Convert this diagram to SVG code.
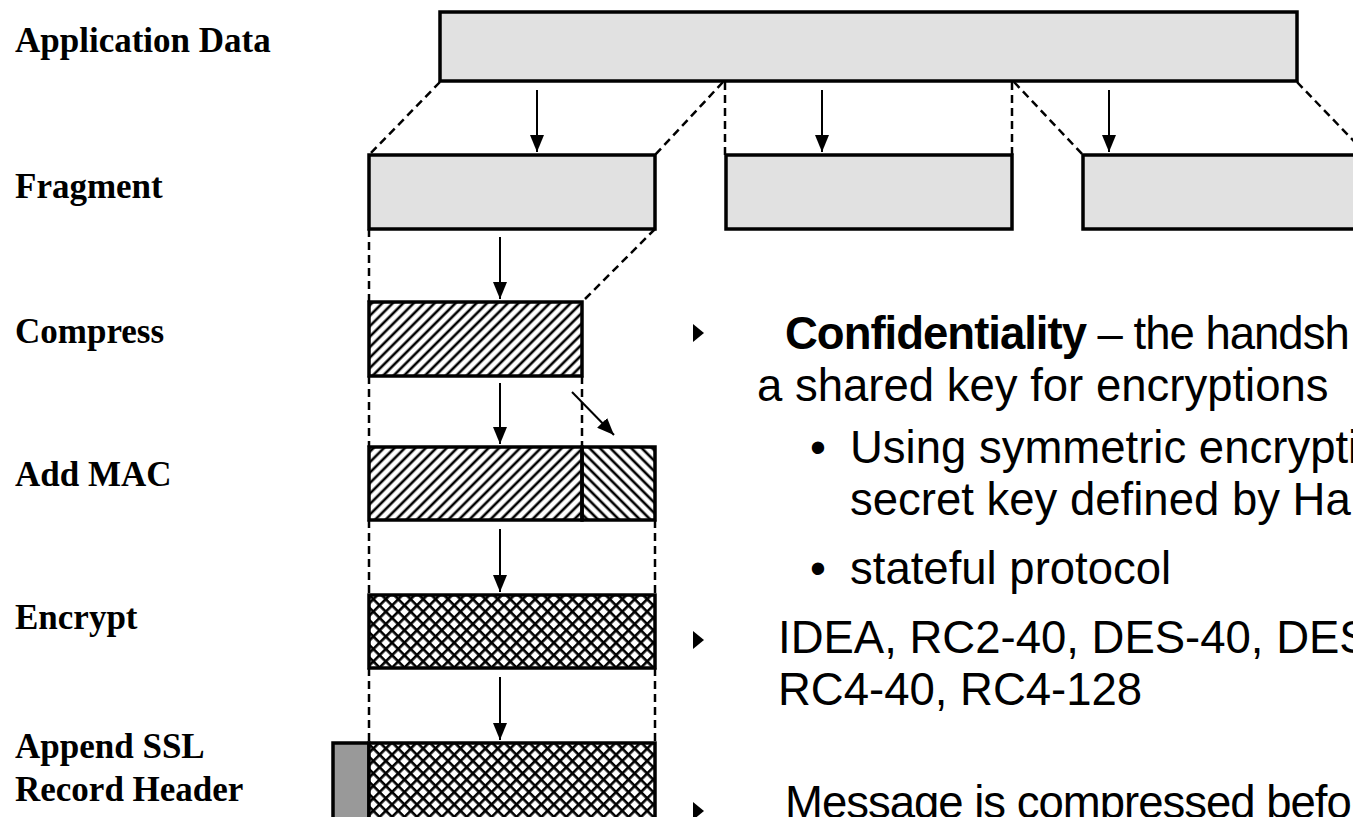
<svg xmlns="http://www.w3.org/2000/svg" width="1353" height="817" viewBox="0 0 1353 817">
  <defs>
    <!-- single diagonal hatch, rising to the right -->
    <pattern id="hatchFwd" patternUnits="userSpaceOnUse" width="7.4" height="7.4" patternTransform="rotate(-45)">
      <line x1="-2" y1="3.7" x2="10" y2="3.7" stroke="#000" stroke-width="2.6"/>
    </pattern>
    <!-- single diagonal hatch, falling to the right -->
    <pattern id="hatchBack" patternUnits="userSpaceOnUse" width="7.4" height="7.4" patternTransform="rotate(45)">
      <line x1="-2" y1="3.7" x2="10" y2="3.7" stroke="#000" stroke-width="2.6"/>
    </pattern>
    <!-- diamond cross hatch -->
    <pattern id="cross" patternUnits="userSpaceOnUse" width="8.8" height="8.8" patternTransform="rotate(45)">
      <rect width="8.8" height="8.8" fill="#fff"/>
      <line x1="-1" y1="1.3" x2="10" y2="1.3" stroke="#000" stroke-width="2.6"/>
      <line x1="1.3" y1="-1" x2="1.3" y2="10" stroke="#000" stroke-width="2.6"/>
    </pattern>
    <!-- filled arrowhead, drawn along the line direction -->
    <marker id="arrow" viewBox="0 0 17 14" refX="17" refY="7" markerWidth="17" markerHeight="14" markerUnits="userSpaceOnUse" orient="auto">
      <path d="M0,0 L17,7 L0,14 Z" fill="#000"/>
    </marker>
  </defs>
  <style>
    .label { font-family: "Liberation Serif", "Times New Roman", serif; font-weight: bold; font-size: 35px; fill: #000; }
    .body { font-family: "Liberation Sans", Arial, sans-serif; font-size: 45.5px; fill: #000; }
    .box { stroke: #000; stroke-width: 3.5; }
    .frag { fill: #e1e1e1; }
    .dash { stroke: #000; stroke-width: 2.5; stroke-dasharray: 8 5; fill: none; }
    .flow { stroke: #000; stroke-width: 2; fill: none; }
  </style>
  <rect width="1353" height="817" fill="#fff"/>

  <!-- stage labels -->
  <g id="labels">
    <text class="label" x="15" y="52">Application Data</text>
    <text class="label" x="15" y="198">Fragment</text>
    <text class="label" x="15" y="343">Compress</text>
    <text class="label" x="15" y="486">Add MAC</text>
    <text class="label" x="15" y="629">Encrypt</text>
    <text class="label" x="15" y="758">Append SSL</text>
    <text class="label" x="15" y="801">Record Header</text>
  </g>

  <!-- connectors: dashed guides and flow arrows -->
  <g id="connectors">
    <line class="dash" x1="440" y1="82" x2="369" y2="155"/>
    <line class="dash" x1="723" y1="82" x2="655" y2="155"/>
    <line class="dash" x1="725" y1="82" x2="725" y2="155"/>
    <line class="dash" x1="1012" y1="82" x2="1012" y2="155"/>
    <line class="dash" x1="1014" y1="82" x2="1083" y2="155"/>
    <line class="dash" x1="1297" y1="82" x2="1372" y2="160"/>

    <line class="dash" x1="369" y1="229" x2="369" y2="302"/>
    <line class="dash" x1="655" y1="229" x2="582" y2="302"/>
    <line class="dash" x1="369" y1="376" x2="369" y2="447"/>
    <line class="dash" x1="582" y1="376" x2="582" y2="447"/>
    <line class="dash" x1="369" y1="520" x2="369" y2="595"/>
    <line class="dash" x1="655" y1="520" x2="655" y2="595"/>
    <line class="dash" x1="369" y1="668" x2="369" y2="743"/>
    <line class="dash" x1="655" y1="668" x2="655" y2="743"/>

    <line class="flow" x1="537" y1="90" x2="537" y2="152" marker-end="url(#arrow)"/>
    <line class="flow" x1="822" y1="90" x2="822" y2="152" marker-end="url(#arrow)"/>
    <line class="flow" x1="1109" y1="90" x2="1109" y2="152" marker-end="url(#arrow)"/>
    <line class="flow" x1="500" y1="237" x2="500" y2="299" marker-end="url(#arrow)"/>
    <line class="flow" x1="500" y1="383" x2="500" y2="444" marker-end="url(#arrow)"/>
    <line class="flow" x1="572" y1="392" x2="614" y2="435" marker-end="url(#arrow)"/>
    <line class="flow" x1="500" y1="529" x2="500" y2="592" marker-end="url(#arrow)"/>
    <line class="flow" x1="500" y1="677" x2="500" y2="740" marker-end="url(#arrow)"/>
  </g>

  <g id="app-data">
    <rect class="box frag" x="440" y="12" width="857" height="69"/>
  </g>
  <g id="fragment-1">
    <rect class="box frag" x="369" y="155" width="286" height="74"/>
  </g>
  <g id="fragment-2">
    <rect class="box frag" x="726" y="155" width="286" height="74"/>
  </g>
  <g id="fragment-3">
    <rect class="box frag" x="1083" y="155" width="290" height="74"/>
  </g>
  <g id="compressed">
    <rect class="box" x="369" y="302" width="213" height="74" fill="url(#hatchFwd)"/>
  </g>
  <g id="with-mac">
    <rect class="box" x="369" y="447" width="213" height="73" fill="url(#hatchFwd)"/>
    <rect class="box" x="582" y="447" width="73" height="73" fill="url(#hatchBack)"/>
  </g>
  <g id="encrypted">
    <rect class="box" x="369" y="595" width="286" height="73" fill="url(#cross)"/>
  </g>
  <g id="record">
    <rect class="box" x="333" y="743" width="36" height="90" fill="#999"/>
    <rect class="box" x="369" y="743" width="286" height="90" fill="url(#cross)"/>
  </g>

  <!-- bulleted notes -->
  <g id="notes">
    <path d="M693,324 L704,333 L693,342 Z" fill="#000"/>
    <text class="body" x="785" y="349" letter-spacing="-1"><tspan font-weight="bold">Confidentiality</tspan> – the handsh</text>
    <text class="body" x="757" y="401">a shared key for encryptions</text>
    <text class="body" x="810" y="463">•</text>
    <text class="body" x="850" y="463">Using symmetric encrypti</text>
    <text class="body" x="850" y="515">secret key defined by Ha</text>
    <text class="body" x="810" y="584">•</text>
    <text class="body" x="850" y="584">stateful protocol</text>
    <path d="M693,631 L704,640 L693,649 Z" fill="#000"/>
    <text class="body" x="778" y="653">IDEA, RC2-40, DES-40, DES</text>
    <text class="body" x="778" y="705">RC4-40, RC4-128</text>
    <path d="M693,802 L704,811 L693,820 Z" fill="#000"/>
    <text class="body" x="785" y="818" letter-spacing="-1">Message is compressed befo</text>
  </g>
</svg>
